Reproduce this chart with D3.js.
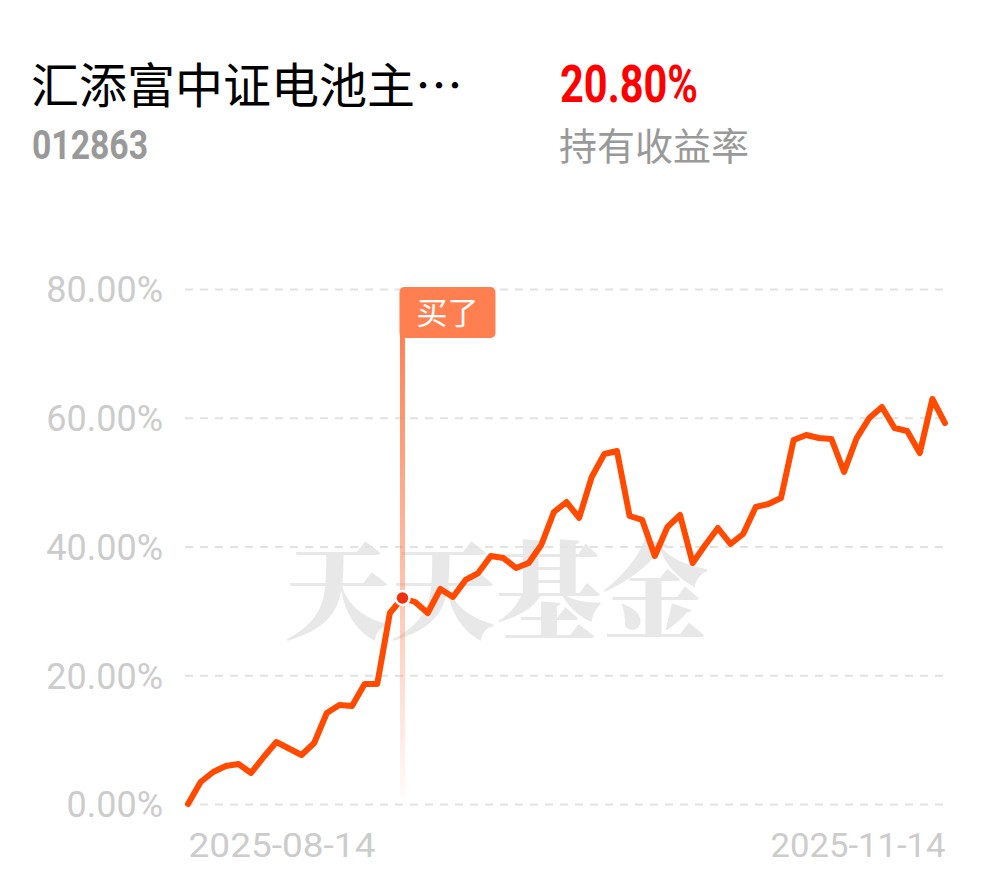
<!DOCTYPE html>
<html>
<head>
<meta charset="utf-8">
<script src="https://cdn.jsdelivr.net/npm/d3@7/dist/d3.min.js"></script>
<style>
  html, body { margin: 0; padding: 0; background: #fff; }
  svg { display: block; }
</style>
</head>
<body>
<svg id="chart" width="990" height="878"></svg>
<script>
const fundName = "汇添富中证电池主…";
const fundCode = "012863";
const holdReturn = "20.80%";
const holdReturnLabel = "持有收益率";
const watermark = "天天基金";
const buyLabel = "买了";
const buyDate = "2025-09-08";

const dates = [
  "2025-08-14","2025-08-15","2025-08-18","2025-08-19","2025-08-20","2025-08-21","2025-08-22","2025-08-25","2025-08-26","2025-08-27","2025-08-28","2025-08-29",
  "2025-09-01","2025-09-02","2025-09-03","2025-09-04","2025-09-05","2025-09-08","2025-09-09","2025-09-10","2025-09-11","2025-09-12","2025-09-15","2025-09-16","2025-09-17","2025-09-18","2025-09-19","2025-09-22","2025-09-23","2025-09-24","2025-09-25","2025-09-26","2025-09-29","2025-09-30",
  "2025-10-09","2025-10-10","2025-10-13","2025-10-14","2025-10-15","2025-10-16","2025-10-17","2025-10-20","2025-10-21","2025-10-22","2025-10-23","2025-10-24","2025-10-27","2025-10-28","2025-10-29","2025-10-30","2025-10-31",
  "2025-11-03","2025-11-04","2025-11-05","2025-11-06","2025-11-07","2025-11-10","2025-11-11","2025-11-12","2025-11-13","2025-11-14"
];
const returns = [
  0, 3.42, 4.97, 5.90, 6.21, 4.82, 7.30, 9.63, 8.62, 7.61, 9.48, 14.14,
  15.38, 15.22, 18.64, 18.64, 29.67, 32.0, 31.38, 29.67, 33.40, 32.16, 34.80, 35.88, 38.52, 38.21, 36.66, 37.44, 40.23, 45.36, 46.91, 44.43, 50.80, 54.37,
  54.83, 44.74, 44.12, 38.52, 43.03, 44.89, 37.44, 40.23, 42.87, 40.39, 41.94, 46.14, 46.60, 47.53, 56.54, 57.32, 56.85,
  56.70, 51.57, 56.85, 59.96, 61.67, 58.41, 57.94, 54.52, 62.91, 59.18
];
const yTicks = [0, 20, 40, 60, 80];
const xTickLabels = ["2025-08-14", "2025-11-14"];

const svg = d3.select("#chart");

// Header
svg.append("text").attr("x", 31).attr("y", 103)
  .attr("font-family", "'Noto Sans CJK SC', sans-serif").attr("font-size", 48)
  .attr("fill", "#000").text(fundName);
svg.append("text").attr("x", 32).attr("y", 159)
  .attr("font-family", "Roboto, sans-serif").attr("font-weight", 700).attr("font-size", 40)
  .attr("textLength", 116).attr("lengthAdjust", "spacingAndGlyphs")
  .attr("fill", "#999").text(fundCode);
svg.append("text").attr("x", 560).attr("y", 102)
  .attr("font-family", "Roboto, sans-serif").attr("font-weight", 700).attr("font-size", 52)
  .attr("textLength", 138).attr("lengthAdjust", "spacingAndGlyphs")
  .attr("fill", "#f00").text(holdReturn);
svg.append("text").attr("x", 559).attr("y", 160)
  .attr("font-family", "'Noto Sans CJK SC', sans-serif").attr("font-size", 38)
  .attr("fill", "#999").text(holdReturnLabel);

// Scales
const x = d3.scalePoint().domain(dates).range([188, 945]);
const y = d3.scaleLinear().domain([0, 80]).range([804, 289]);

// Watermark
svg.append("text").attr("x", 496).attr("y", 630).attr("text-anchor", "middle")
  .attr("font-family", "'Noto Serif CJK SC', 'Noto Sans CJK SC', serif").attr("font-weight", 900)
  .attr("font-size", 106).attr("fill", "#e8e8e8").text(watermark);

// Grid + y labels
const yAxis = d3.axisLeft(y).tickValues(yTicks).tickSize(-(945 - 185)).tickPadding(0)
  .tickFormat(d => d.toFixed(2) + "%");
const gy = svg.append("g").attr("transform", "translate(185,0)").call(yAxis);
gy.select(".domain").remove();
gy.selectAll(".tick line").attr("stroke", "#e2e2e2").attr("stroke-width", 2).attr("stroke-dasharray", "8,7");
gy.selectAll(".tick text").attr("x", -22).attr("dy", "0.36em")
  .attr("font-family", "Roboto, sans-serif").attr("font-size", 36).attr("fill", "#cccccc");

// X labels
const xLabelWidths = [187, 175];
const xAxis = d3.axisBottom(x).tickValues(xTickLabels).tickSize(0).tickPadding(0);
const gx = svg.append("g").attr("transform", "translate(0,857)").call(xAxis);
gx.select(".domain").remove();
gx.selectAll(".tick text")
  .attr("y", 0).attr("dy", 0)
  .attr("font-family", "Roboto, sans-serif").attr("font-size", 34).attr("fill", "#cccccc")
  .attr("textLength", (d, i) => xLabelWidths[i]).attr("lengthAdjust", "spacingAndGlyphs")
  .attr("text-anchor", (d, i) => i === 0 ? "start" : "end");

// Buy marker
const defs = svg.append("defs");
const grad = defs.append("linearGradient").attr("id", "buyGrad")
  .attr("x1", 0).attr("y1", 0).attr("x2", 0).attr("y2", 1);
grad.append("stop").attr("offset", "0%").attr("stop-color", "#ff7f50").attr("stop-opacity", 1);
grad.append("stop").attr("offset", "100%").attr("stop-color", "#ff7f50").attr("stop-opacity", 0.03);
const bx = x(buyDate);
svg.append("rect").attr("x", bx - 2.5).attr("y", 330).attr("width", 5).attr("height", 797 - 330)
  .attr("fill", "url(#buyGrad)");
svg.append("rect").attr("x", bx - 3).attr("y", 287).attr("width", 96).attr("height", 51)
  .attr("rx", 5).attr("fill", "#ff7f50");
svg.append("text").attr("x", bx - 3 + 48).attr("y", 324).attr("text-anchor", "middle")
  .attr("font-family", "'Noto Sans CJK SC', sans-serif").attr("font-size", 31)
  .attr("fill", "#fff").text(buyLabel);

// Line
const line = d3.line().x((d, i) => x(dates[i])).y(d => y(d)).curve(d3.curveLinear);
svg.append("path").datum(returns).attr("d", line)
  .attr("fill", "none").attr("stroke", "#ff4a00").attr("stroke-width", 6)
  .attr("stroke-linejoin", "round").attr("stroke-linecap", "round");

// Buy dot
const bi = dates.indexOf(buyDate);
svg.append("circle").attr("cx", bx).attr("cy", y(returns[bi])).attr("r", 7)
  .attr("fill", "#f0300f").attr("stroke", "#fff").attr("stroke-width", 2.5);
</script>
</body>
</html>
